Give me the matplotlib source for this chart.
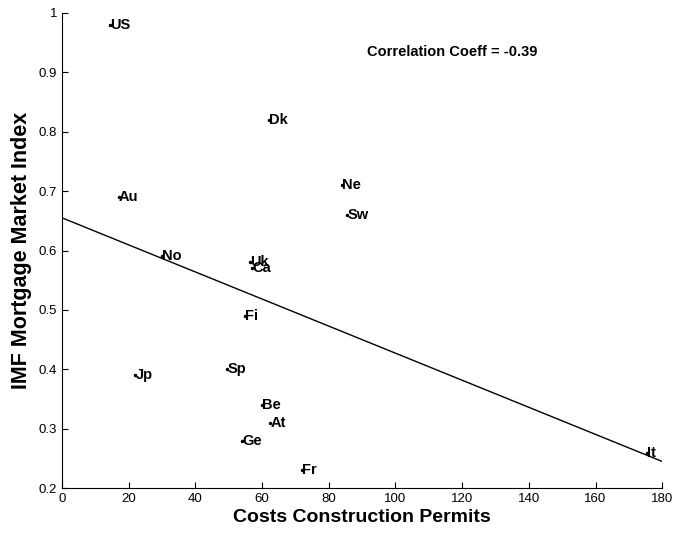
import numpy as np
import matplotlib
matplotlib.use("Agg")
import matplotlib.pyplot as plt
from matplotlib.ticker import FuncFormatter

plt.rcParams['font.family'] = ['Liberation Sans', 'DejaVu Sans']

# country codes and values
countries = ["US", "Au", "Dk", "Ne", "Sw", "Uk", "Ca", "No", "Fi", "Sp",
             "Jp", "Be", "At", "Ge", "Fr", "It"]
permit_costs = [14.5, 17, 62, 84, 85.5, 56.5, 57, 30, 55, 49.5,
                22, 60, 62.5, 54, 72, 175.5]
mortgage_index = [0.98, 0.69, 0.82, 0.71, 0.66, 0.58, 0.57, 0.59, 0.49, 0.40,
                  0.39, 0.34, 0.31, 0.28, 0.23, 0.26]
corr_coeff = -0.39

fig = plt.figure(figsize=(6.75, 5.33), dpi=100)
ax = fig.add_axes([0.092, 0.084, 0.889, 0.892])

x = np.array(permit_costs)
y = np.array(mortgage_index)

# linear fit across the full axis range
slope, intercept = np.polyfit(x, y, 1)
xf = np.array([0, 180])
ax.plot(xf, intercept + slope * xf, color="black", lw=1)

ax.plot(x, y, ".", color="black", ms=3)
for name, xi, yi in zip(countries, x, y):
    ax.text(xi, yi, name, fontsize=10.5, fontweight="bold", ha="left", va="center")

ax.text(91.5, 0.934, "Correlation Coeff = %.2f" % corr_coeff, fontsize=10.5,
        fontweight="bold", ha="left", va="center")

ax.set_xlim(0, 180)
ax.set_ylim(0.2, 1)
ax.set_xticks(np.arange(0, 181, 20))
ax.set_yticks(np.arange(0.2, 1.01, 0.1))
ax.yaxis.set_major_formatter(FuncFormatter(lambda v, p: ("%g" % round(v, 2))))
ax.tick_params(direction="in", length=4, labelsize=9.5, colors="black")
for s in ["top", "right"]:
    ax.spines[s].set_visible(False)

ax.set_xlabel("Costs Construction Permits", fontsize=14, fontweight="bold", labelpad=3)
ax.set_ylabel("IMF Mortgage Market Index", fontsize=15.5, fontweight="bold", labelpad=5)

fig.savefig("out.png", dpi=100)
